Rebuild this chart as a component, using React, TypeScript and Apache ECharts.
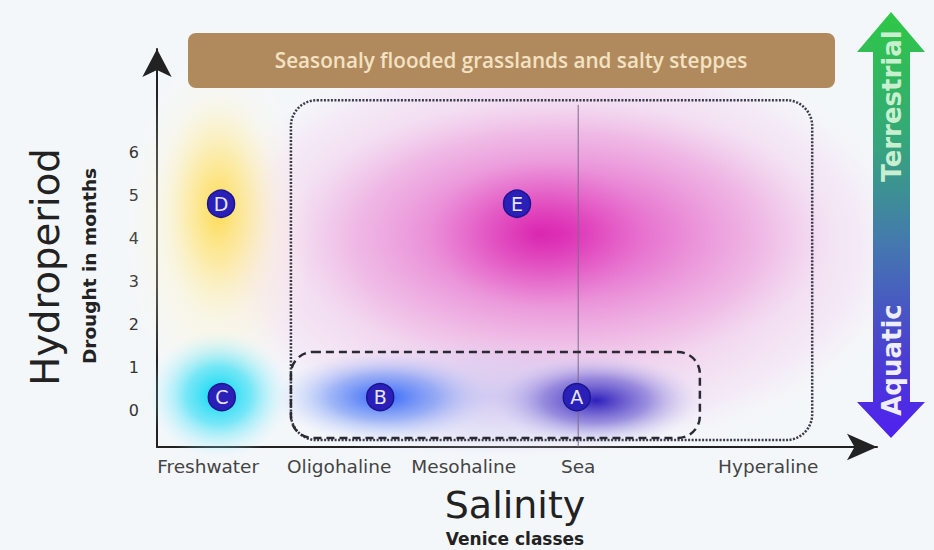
import React, { useEffect, useRef } from "react";
import * as echarts from "echarts";

// Salinity classes (x positions on the salinity axis) and hydroperiod ticks
const classNames = ["Freshwater", "Oligohaline", "Mesohaline", "Sea", "Hyperaline"];
const classPositions = [0.71, 2.53, 4.26, 5.85, 8.49];
const droughtTicks = [0, 1, 2, 3, 4, 5, 6];

// Habitat markers
const markerLabels = ["A", "B", "C", "D", "E"];
const markerX = [5.83, 3.1, 0.9, 0.89, 5.0];
const markerY = [0.3, 0.3, 0.3, 4.8, 4.8];

// Soft colour areas: centre x, centre y, radius x, radius y (data units)
const blobNames = ["pinkField", "haze", "magenta", "magentaCore", "yellowHalo", "yellow", "cyan", "blueB", "indigoA"];
const blobX = [5.5, 4.63, 5.6, 5.3, 0.85, 0.85, 0.86, 3.15, 6.1];
const blobY = [3.8, 0.3, 4.1, 4.1, 4.2, 4.7, 0.35, 0.3, 0.22];
const blobRx = [5.0, 3.3, 3.8, 1.5, 1.3, 0.85, 1.0, 1.5, 1.45];
const blobRy = [4.9, 1.45, 3.1, 1.7, 4.2, 2.7, 1.5, 1.05, 1.05];

// Zones: x0, x1, y0, y1
const zoneNames = ["dotted", "dashed"];
const zoneX0 = [1.86, 1.86];
const zoneX1 = [9.1, 7.54];
const zoneY0 = [-0.7, -0.65];
const zoneY1 = [7.21, 1.35];

const seaLineY = [-0.86, 7.1];

const blobStops: Record<string, [number, string][]> = {
  pinkField: [[0, "rgba(232,130,210,0.62)"], [0.55, "rgba(238,160,220,0.48)"], [0.85, "rgba(244,195,235,0.26)"], [1, "rgba(248,225,245,0)"]],
  haze: [[0, "rgba(170,175,240,0.45)"], [0.6, "rgba(195,200,245,0.3)"], [1, "rgba(225,225,250,0)"]],
  magenta: [[0, "rgba(222,40,182,0.88)"], [0.4, "rgba(228,85,198,0.58)"], [0.75, "rgba(234,130,212,0.28)"], [1, "rgba(240,170,225,0)"]],
  magentaCore: [[0, "rgba(215,25,170,0.7)"], [0.5, "rgba(222,55,182,0.35)"], [1, "rgba(230,100,200,0)"]],
  yellowHalo: [[0, "rgba(255,240,170,0.55)"], [0.6, "rgba(255,245,205,0.35)"], [1, "rgba(255,250,230,0)"]],
  yellow: [[0, "rgba(255,212,50,0.8)"], [0.5, "rgba(255,226,110,0.45)"], [1, "rgba(255,240,190,0)"]],
  cyan: [[0, "rgba(0,215,245,1)"], [0.45, "rgba(50,222,245,0.65)"], [1, "rgba(200,245,255,0)"]],
  blueB: [[0, "rgba(40,95,250,0.95)"], [0.5, "rgba(85,130,245,0.5)"], [1, "rgba(200,210,250,0)"]],
  indigoA: [[0, "rgba(38,22,185,0.95)"], [0.5, "rgba(80,65,200,0.5)"], [1, "rgba(200,200,240,0)"]],
};

const FONT = "DejaVu Sans";

export default function App() {
  const ref = useRef<HTMLDivElement>(null);
  useEffect(() => {
    if (!ref.current) return;
    const chart = echarts.init(ref.current, undefined, { renderer: "svg" });

    const blobData = blobNames.map((n, i) => [blobX[i], blobY[i], blobRx[i], blobRy[i], i]);
    const zoneData = zoneNames.map((n, i) => [zoneX0[i], zoneY0[i], zoneX1[i], zoneY1[i], i]);
    const markerData = markerLabels.map((l, i) => [markerX[i], markerY[i], l]);

    const option: any = {
      animation: false,
      backgroundColor: "#f4f7fa",
      grid: { left: 157, right: 57, top: 49, bottom: 103 },
      xAxis: {
        type: "value",
        min: 0,
        max: 10,
        splitLine: { show: false },
        axisLine: {
          onZero: false,
          lineStyle: { color: "#222", width: 2 },
          symbol: ["none", "arrow"],
          symbolSize: [20, 30],
        },
        axisTick: { show: false },
        axisLabel: {
          customValues: classPositions,
          margin: 10,
          color: "#444",
          fontSize: 18.5,
          fontFamily: FONT,
          formatter: (v: number) => {
            const i = classPositions.findIndex((p) => Math.abs(p - v) < 1e-6);
            return i >= 0 ? classNames[i] : "";
          },
        },
      },
      yAxis: {
        type: "value",
        min: -0.86,
        max: 8.4,
        splitLine: { show: false },
        axisLine: {
          onZero: false,
          lineStyle: { color: "#222", width: 2 },
          symbol: ["none", "arrow"],
          symbolSize: [22, 28],
        },
        axisTick: { show: false },
        axisLabel: {
          customValues: droughtTicks,
          margin: 18,
          color: "#333",
          fontSize: 16,
          fontFamily: FONT,
        },
      },
      series: [
        {
          type: "custom",
          z: 1,
          clip: false,
          data: blobData,
          renderItem: (params: any, api: any) => {
            const c = api.coord([api.value(0), api.value(1)]);
            const s = api.size([api.value(2), api.value(3)]);
            const name = blobNames[api.value(4)];
            const stops = blobStops[name].map(([o, col]) => ({ offset: o, color: col }));
            return {
              type: "ellipse",
              shape: { cx: c[0], cy: c[1], rx: s[0], ry: s[1] },
              style: { fill: new echarts.graphic.RadialGradient(0.5, 0.5, 0.5, stops) },
            };
          },
        },
        {
          type: "custom",
          z: 3,
          clip: false,
          data: zoneData,
          renderItem: (params: any, api: any) => {
            const p0 = api.coord([api.value(0), api.value(3)]);
            const p1 = api.coord([api.value(2), api.value(1)]);
            const dotted = zoneNames[api.value(4)] === "dotted";
            return {
              type: "rect",
              shape: { x: p0[0], y: p0[1], width: p1[0] - p0[0], height: p1[1] - p0[1], r: dotted ? 26 : 22 },
              style: {
                fill: "none",
                stroke: dotted ? "#3a3a4a" : "#2a2a35",
                lineWidth: 2.5,
                lineDash: dotted ? [2, 1.5] : [8, 5],
              },
            };
          },
        },
        {
          type: "line",
          z: 2,
          symbol: "none",
          data: seaLineY.map((y) => [classPositions[3], y]),
          lineStyle: { color: "#7a6a8a", width: 1 },
        },
        {
          type: "scatter",
          z: 5,
          data: markerData,
          symbol: "circle",
          symbolSize: 27,
          itemStyle: { color: "#2a20b8", borderColor: "#1a1490", borderWidth: 1.5, opacity: 1 },
          label: {
            show: true,
            position: "inside",
            formatter: (p: any) => p.value[2],
            color: "#e6e6ff",
            fontSize: 19,
            fontFamily: FONT,
          },
        },
      ],
      graphic: [
        {
          type: "rect",
          z: 10,
          shape: { x: 188, y: 33, width: 647, height: 55, r: 8 },
          style: { fill: "#b08a5c" },
        },
        {
          type: "text",
          z: 11,
          x: 511,
          y: 60,
          style: {
            text: "Seasonaly flooded grasslands and salty steppes",
            fill: "#f3e2c4",
            fontSize: 20.7,
            fontWeight: 600,
            fontFamily: "Open Sans",
            align: "center",
            verticalAlign: "middle",
          },
        },
        {
          type: "polygon",
          z: 10,
          shape: {
            points: [
              [891, 12], [925, 52], [910, 52], [910, 402], [925, 402],
              [891, 438], [857, 402], [873, 402], [873, 52], [857, 52],
            ],
          },
          style: {
            fill: new echarts.graphic.LinearGradient(0, 0, 0, 1, [
              { offset: 0, color: "#2ec845" },
              { offset: 0.3, color: "#35a77a" },
              { offset: 0.55, color: "#4577b0" },
              { offset: 0.8, color: "#4a40d0" },
              { offset: 1, color: "#5020f0" },
            ]),
          },
        },
        {
          type: "text",
          z: 11,
          x: 892,
          y: 106,
          rotation: Math.PI / 2,
          style: {
            text: "Terrestrial",
            fill: "#c8f0d0",
            fontSize: 26,
            fontWeight: "bold",
            fontFamily: FONT,
            align: "center",
            verticalAlign: "middle",
          },
        },
        {
          type: "text",
          z: 11,
          x: 892,
          y: 360,
          rotation: Math.PI / 2,
          style: {
            text: "Aquatic",
            fill: "#eeeeff",
            fontSize: 26,
            fontWeight: "bold",
            fontFamily: FONT,
            align: "center",
            verticalAlign: "middle",
          },
        },
        {
          type: "text",
          z: 11,
          x: 45,
          y: 267,
          rotation: Math.PI / 2,
          style: {
            text: "Hydroperiod",
            fill: "#222",
            fontSize: 38.5,
            fontFamily: FONT,
            align: "center",
            verticalAlign: "middle",
          },
        },
        {
          type: "text",
          z: 11,
          x: 89,
          y: 266,
          rotation: Math.PI / 2,
          style: {
            text: "Drought in months",
            fill: "#222",
            fontSize: 18.5,
            fontWeight: "bold",
            fontFamily: FONT,
            align: "center",
            verticalAlign: "middle",
          },
        },
        {
          type: "text",
          z: 11,
          x: 515,
          y: 505,
          style: {
            text: "Salinity",
            fill: "#222",
            fontSize: 38,
            fontFamily: FONT,
            align: "center",
            verticalAlign: "middle",
          },
        },
        {
          type: "text",
          z: 11,
          x: 515,
          y: 539,
          style: {
            text: "Venice classes",
            fill: "#222",
            fontSize: 17,
            fontWeight: "bold",
            fontFamily: FONT,
            align: "center",
            verticalAlign: "middle",
          },
        },
      ],
    };
    chart.setOption(option);
    return () => chart.dispose();
  }, []);
  return (
    <div
      ref={ref}
      style={{ position: "fixed", left: 0, top: 0, width: 934, height: 550 }}
    />
  );
}
